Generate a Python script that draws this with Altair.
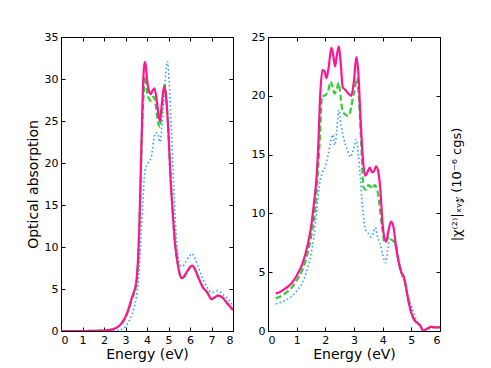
import altair as alt
import pandas as pd

# ---------------- Left panel: optical absorption ----------------
L_PINK_X = [0, 1, 2, 2.4, 2.7, 2.9, 3.1, 3.3, 3.5, 3.6, 3.65, 3.7, 3.75, 3.8, 3.85, 3.9, 3.95, 4.0, 4.1, 4.17,
            4.25, 4.35, 4.45, 4.55, 4.6, 4.67, 4.75, 4.82, 4.9, 5.0, 5.1, 5.2, 5.3, 5.4, 5.5, 5.6, 5.7, 5.8,
            6.0, 6.1, 6.2, 6.4, 6.6, 6.8, 7.0, 7.15, 7.3, 7.5, 7.7, 8.0]
L_PINK_Y = [0, 0, 0.05, 0.2, 0.6, 1.2, 2.3, 4.0, 5.8, 9.5, 13, 18, 23, 28, 31, 32, 31.5, 30, 28.5, 28.2,
            28.6, 28.9, 27.5, 25.5, 25.0, 26.5, 28.5, 29.1, 27.5, 23.5, 18, 14, 10.5, 8.5, 7.0, 6.3, 6.4, 6.8,
            7.6, 7.8, 7.5, 6.3, 5.2, 4.6, 3.8, 4.0, 4.2, 4.0, 3.4, 2.5]

L_GREEN_X = [0, 1, 2, 2.4, 2.7, 2.9, 3.1, 3.3, 3.5, 3.6, 3.65, 3.7, 3.75, 3.8, 3.85, 3.9, 3.95, 4.0, 4.1, 4.2,
             4.3, 4.4, 4.5, 4.6, 4.68, 4.75, 4.82, 4.9, 5.0, 5.1, 5.2, 5.3, 5.4, 5.5, 5.6, 5.7, 5.8,
             6.0, 6.1, 6.2, 6.4, 6.6, 6.8, 7.0, 7.15, 7.3, 7.5, 7.7, 8.0]
L_GREEN_Y = [0, 0, 0.05, 0.2, 0.6, 1.2, 2.2, 3.8, 5.5, 9.0, 12.5, 17, 22, 26, 28.5, 30.3, 29.8, 28.5, 27.6, 27.4,
             27.9, 27.0, 25.0, 24.3, 26, 28, 29.3, 27.8, 23.5, 18, 14, 10.5, 8.5, 7.0, 6.3, 6.4, 6.8,
             7.6, 7.8, 7.5, 6.3, 5.2, 4.6, 3.8, 4.0, 4.2, 4.0, 3.4, 2.5]

L_BLUE_X = [0, 1, 2, 2.6, 2.9, 3.1, 3.3, 3.5, 3.6, 3.7, 3.8, 3.9, 4.0, 4.1, 4.2, 4.3, 4.4, 4.5, 4.6, 4.7,
            4.8, 4.9, 4.95, 5.0, 5.1, 5.2, 5.3, 5.4, 5.5, 5.6, 5.7, 5.8, 6.0, 6.1, 6.2, 6.4, 6.6, 6.8,
            7.0, 7.2, 7.3, 7.5, 7.7, 8.0]
L_BLUE_Y = [0, 0, 0, 0.05, 0.3, 0.9, 2.0, 4.0, 6.0, 10, 15, 19, 19.8, 20.2, 20.7, 22.5, 23.6, 23.5, 22.5, 24.5,
            28, 31.5, 32.1, 31, 26, 20, 14, 10, 8.2, 7.7, 7.8, 8.2, 9.0, 9.2, 8.8, 7.5, 6.2, 5.2,
            4.6, 4.7, 4.8, 4.4, 4.0, 3.0]

# ---------------- Right panel: |chi(2)|_xyz ----------------
R_PINK_X = [0.27, 0.4, 0.6, 0.8, 1.0, 1.2, 1.4, 1.5, 1.6, 1.7, 1.75, 1.82, 1.9, 1.97, 2.04, 2.12, 2.21, 2.28,
            2.34, 2.4, 2.47, 2.53, 2.61, 2.7, 2.8, 2.9, 3.0, 3.08, 3.15, 3.22, 3.3, 3.39, 3.47, 3.55, 3.63,
            3.7, 3.77, 3.85, 3.92, 4.0, 4.12, 4.2, 4.29, 4.38, 4.45, 4.55, 4.65, 4.75, 4.85, 4.95, 5.05,
            5.15, 5.3, 5.42, 5.55, 5.7, 5.85, 6.0]
R_PINK_Y = [3.2, 3.3, 3.6, 4.0, 4.7, 5.7, 7.5, 8.8, 10.8, 13.3, 15.5, 20, 22.2, 22.1, 21.5, 22.5, 24.1, 23.4,
            22.5, 23.4, 24.2, 23.0, 20.7, 20.5, 20.2, 20.0, 21.3, 23.3, 22.0, 18.5, 15, 13.2, 13.5, 13.9, 13.5,
            13.6, 14.0, 13.5, 12.0, 9.0, 7.6, 8.5, 9.3, 8.8, 7.5, 6.0, 5.0, 4.5, 3.2, 2.0, 1.2,
            0.8, 0.5, 0.0, 0.2, 0.35, 0.3, 0.3]

R_GREEN_X = [0.27, 0.4, 0.6, 0.8, 1.0, 1.2, 1.4, 1.5, 1.6, 1.7, 1.8, 1.89, 1.95, 2.05, 2.12, 2.18, 2.25,
             2.32, 2.4, 2.47, 2.53, 2.6, 2.7, 2.81, 2.9, 2.95, 3.02, 3.1, 3.18, 3.25, 3.33, 3.42, 3.5, 3.57,
             3.65, 3.72, 3.8, 3.85, 3.92, 4.0, 4.06, 4.15, 4.25, 4.3, 4.4, 4.45, 4.55, 4.65, 4.75, 4.85,
             4.95, 5.05, 5.15, 5.3, 5.42, 5.55, 5.7, 5.85, 6.0]
R_GREEN_Y = [2.8, 2.9, 3.2, 3.6, 4.3, 5.2, 6.8, 8.0, 9.5, 12, 16, 20.0, 20.0, 20.2, 20.6, 21.2, 20.8,
             20.2, 20.6, 21.1, 20.0, 18.7, 18.4, 18.3, 19.0, 19.7, 20.5, 21.5, 19.5, 16, 12.2, 12.0, 12.4, 12.3,
             12.1, 12.4, 12.1, 11.5, 10, 8.5, 7.5, 7.8, 8.0, 7.8, 7.6, 7.4, 6.0, 5.0, 4.5, 3.2,
             2.0, 1.2, 0.8, 0.5, 0.0, 0.2, 0.35, 0.3, 0.3]

R_BLUE_X = [0.27, 0.4, 0.6, 0.8, 1.0, 1.2, 1.4, 1.5, 1.6, 1.7, 1.8, 1.9, 2.0, 2.1, 2.18, 2.26, 2.33, 2.4,
            2.47, 2.55, 2.65, 2.75, 2.88, 2.95, 3.02, 3.08, 3.15, 3.22, 3.3, 3.4, 3.5, 3.6, 3.68, 3.75, 3.82,
            3.9, 4.0, 4.1, 4.17, 4.22, 4.3, 4.38, 4.45, 4.55, 4.65, 4.75, 4.85, 4.95, 5.05, 5.15, 5.25,
            5.35, 5.45, 5.55, 5.7, 5.85, 6.0]
R_BLUE_Y = [2.3, 2.4, 2.6, 2.9, 3.4, 4.1, 5.5, 6.5, 8.0, 10.2, 12.5, 13.5, 14.0, 15.0, 16.0, 16.7, 15.8, 17.0,
            18.8, 17.5, 16.3, 15.5, 14.8, 15.2, 15.8, 16.3, 15.0, 13.0, 10.5, 8.6, 8.3, 8.0, 8.4, 8.8, 8.0,
            7.5, 6.5, 5.8, 6.8, 7.6, 7.8, 7.6, 7.0, 5.8, 4.8, 4.3, 3.3, 2.5, 1.8, 1.1, 0.6,
            0.3, 0.1, 0.1, 0.3, 0.3, 0.3]

L_XTICKS = [0, 1, 2, 3, 4, 5, 6, 7, 8]
L_YTICKS = [0, 5, 10, 15, 20, 25, 30, 35]
R_XTICKS = [0, 1, 2, 3, 4, 5, 6]
R_YTICKS = [0, 5, 10, 15, 20, 25]

PINK = "#ff1493"
GREEN = "#33cc33"
BLUE = "#3399ff"

FONT = "DejaVu Sans"


def frame(x, y):
    return pd.DataFrame({"x": x, "y": y})


def panel(series, xmax, ymax, xticks, yticks, left_title, right_title):
    xs = alt.Scale(domain=[0, xmax], nice=False, zero=False)
    ys = alt.Scale(domain=[0, ymax], nice=False, zero=False)
    x_bottom = alt.Axis(values=xticks, orient="bottom", offset=-4, tickSize=4, domain=False,
                        labelPadding=3, title="Energy (eV)", titlePadding=2, grid=False,
                        format="d")
    y_left = alt.Axis(values=yticks, orient="left", offset=-4, tickSize=4, domain=False,
                      labelPadding=3, title=left_title if left_title else None,
                      titlePadding=4, grid=False, format="d")
    lines = []
    for df, color, width, dash in series:
        kw = dict(color=color, strokeWidth=width, interpolate="monotone", clip=True)
        if dash:
            kw["strokeDash"] = dash
        lines.append(
            alt.Chart(df).mark_line(**kw).encode(
                x=alt.X("x:Q", scale=xs, axis=x_bottom),
                y=alt.Y("y:Q", scale=ys, axis=y_left),
            )
        )
    main = alt.layer(*lines)
    x_top = alt.Axis(values=xticks, orient="top", offset=-4, tickSize=4, domain=False,
                     labels=False, title=None, grid=False)
    if right_title:
        y_right = alt.Axis(values=yticks, orient="right", offset=-4, tickSize=4, domain=False,
                           labels=False, title=right_title, titleAngle=270, titleBaseline="top",
                           titleAlign="center", titlePadding=10, titleFontSize=13, grid=False)
    else:
        y_right = alt.Axis(values=yticks, orient="right", offset=-4, tickSize=4, domain=False,
                           labels=False, title=None, grid=False)
    ticks = alt.Chart(series[0][0]).mark_line(opacity=0).encode(
        x=alt.X("x:Q", scale=xs, axis=x_top),
        y=alt.Y("y:Q", scale=ys, axis=y_right),
    )
    return alt.layer(main, ticks).resolve_axis(x="independent", y="independent").properties(
        width=172, height=294
    )


left = panel(
    [
        (frame(L_BLUE_X, L_BLUE_Y), BLUE, 1.6, [1.5, 2.5]),
        (frame(L_GREEN_X, L_GREEN_Y), GREEN, 2.2, [6, 3]),
        (frame(L_PINK_X, L_PINK_Y), PINK, 2.2, None),
    ],
    8, 35, L_XTICKS, L_YTICKS, "Optical absorption", None,
)

right = panel(
    [
        (frame(R_BLUE_X, R_BLUE_Y), BLUE, 1.6, [1.5, 2.5]),
        (frame(R_GREEN_X, R_GREEN_Y), GREEN, 2.2, [6, 3]),
        (frame(R_PINK_X, R_PINK_Y), PINK, 2.2, None),
    ],
    6, 25, R_XTICKS, R_YTICKS, None, "|χ⁽²⁾|ₓᵧ𝓏 (10⁻⁶ cgs)",
)

chart = alt.hconcat(left, right, spacing=35, bounds="flush").properties(
    padding={"left": 17, "top": 22, "right": 17, "bottom": 3},
    background="white",
).configure_view(
    stroke="black", strokeWidth=1
).configure_axis(
    labelFont=FONT, labelFontSize=11, labelColor="black",
    titleFont=FONT, titleFontSize=14, titleFontWeight="normal", titleColor="black",
    tickColor="black", tickWidth=1,
)

chart.save("out.html", embed_options={"renderer": "svg", "actions": False})
